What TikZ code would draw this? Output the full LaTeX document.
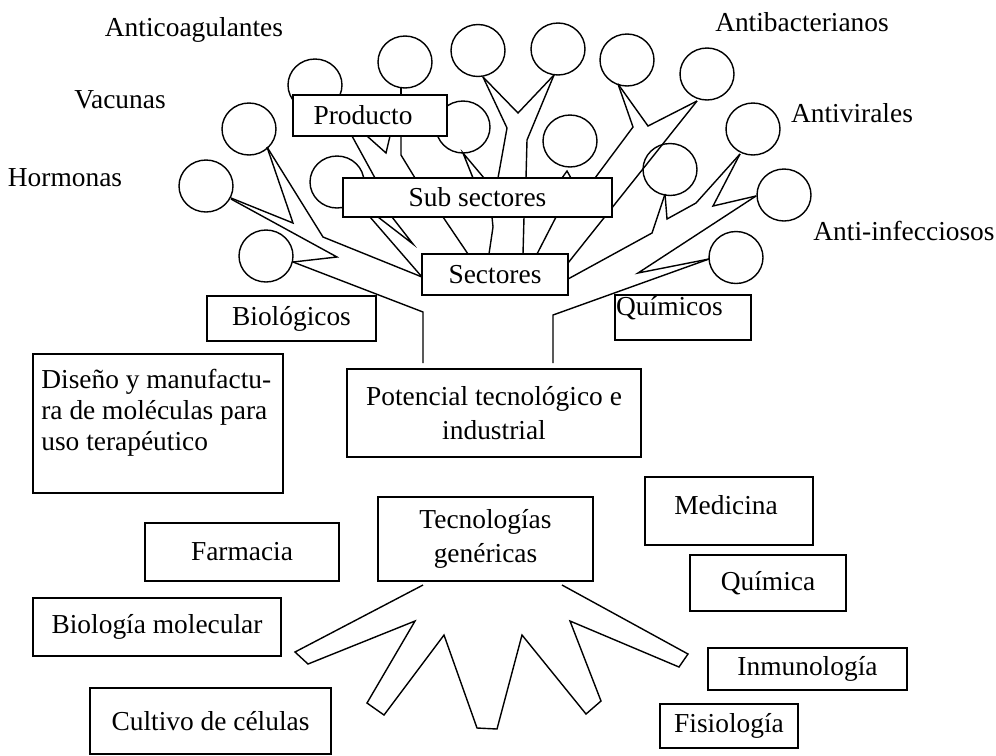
\documentclass[tikz,border=0pt]{standalone}
\usepackage{fontspec}
\setmainfont{Liberation Serif}
\newcommand\treefont{\fontsize{15.6}{17.5}\selectfont}
\begin{document}
\begin{tikzpicture}[x=0.02cm,y=-0.02cm,
  tree/.style={line width=0.8pt},
  leaf/.style={line width=0.8pt},
  box/.style={draw, line width=0.8pt, fill=white, inner sep=0pt, font=\treefont, align=center},
  lbl/.style={inner sep=0pt, font=\treefont}]
\useasboundingbox (0,0) rectangle (996,755);

% ---- trunk and branches ----
\draw[tree] (423,363) -- (423,312) -- (293,262);
\draw[tree] (293,262) -- (337,257) -- (231,199);
\draw[tree] (231,198) -- (293,223) -- (267,147);
\draw[tree] (267,147) -- (323,237) -- (422,277);
\draw[tree] (370,217) -- (422,277);
\draw[tree] (378,217) -- (413,244) -- (392,217);
\draw[tree] (352,136) -- (375,178);
\draw[tree] (367,136) -- (386,153) -- (390,136);
\draw[tree] (401,136) -- (401,155) -- (415,178);
\draw[tree] (401,88) -- (401,96);
\draw[tree] (443,217) -- (468,254);
\draw[tree] (492,217) -- (493,227) -- (489,254);
\draw[tree] (524,217) -- (523,254);
\draw[tree] (556,217) -- (537,254);
\draw[tree] (697,101) -- (568,263);
\draw[tree] (618,84) -- (633,127) -- (595,178);
\draw[tree] (618,84) -- (648,126) -- (697,101);
\draw[tree] (483,77) -- (518,113) -- (554,75);
\draw[tree] (483,77) -- (507,128) -- (498,178);
\draw[tree] (554,75) -- (527,140) -- (526,178);
\draw[tree] (473,178) -- (463,153) -- (484,178);
\draw[tree] (562,178) -- (567,171) -- (571,178);
\draw[tree] (665,194) -- (652,233) -- (568,279);
\draw[tree] (665,194) -- (667,219) -- (696,203) -- (740,154);
\draw[tree] (740,154) -- (713,206) -- (756,196);
\draw[tree] (756,196) -- (638,273) -- (709,259);
\draw[tree] (709,259) -- (553,315) -- (553,363);

% ---- leaves ----
\foreach \cx/\cy in {249/129, 206/186, 266/256, 315/85, 405/62, 478/50.5,
  558/49, 463/127, 337/182, 570/141, 627/60, 707/74, 670/169.5, 753/129,
  784/195, 736/257.5}
  \draw[leaf] (\cx,\cy) ellipse [x radius=0.54cm, y radius=0.52cm];

% ---- roots ----
\draw[tree] (423,585) -- (295,652) -- (308,664) -- (415,621) -- (367,703)
  -- (384,715) -- (444,635) -- (477,728) -- (497,729) -- (522,635)
  -- (586,714) -- (601,701) -- (570,621) -- (679,667) -- (688,654) -- (562,585);

% ---- boxes ----
\node[box, minimum width=3.08cm, minimum height=0.82cm] (producto) at (370,115.5) {Producto\hspace{0.28cm}};
\node[box, minimum width=5.38cm, minimum height=0.78cm] (subsect) at (477.5,197.5) {Sub sectores};
\node[box, minimum width=2.92cm, minimum height=0.82cm] (sectores) at (495,274.5) {Sectores};
\node[box, minimum width=3.38cm, minimum height=0.90cm] (biol) at (291.5,318.5) {Biológicos};
\node[box, minimum width=2.72cm, minimum height=0.90cm,
  label={[lbl, anchor=north west, xshift=0.03cm, yshift=-0.04cm]north west:Químicos}] (quim) at (683,317.5) {};
\node[box, minimum width=5.0cm, minimum height=2.78cm] (diseno) at (158,423.5) {};
\node[lbl, anchor=north west, align=left] (disenotxt) at (41,369)
  {Diseño y manufactu-\\ra de moléculas para\\uso terapéutico};
\node[box, minimum width=5.88cm, minimum height=1.76cm] (potencial) at (494,413)
  {Potencial tecnológico e\\[1.5pt]industrial};
\node[box, minimum width=4.3cm, minimum height=1.68cm] (tecgen) at (485.5,539)
  {Tecnologías\\[1.5pt]genéricas};
\node[box, minimum width=3.36cm, minimum height=1.36cm,
  label={[lbl, xshift=-0.06cm, yshift=0.12cm]center:Medicina}] (medicina) at (729,511) {};
\node[box, minimum width=3.12cm, minimum height=1.12cm] (quimica) at (768,583) {Química};
\node[box, minimum width=3.88cm, minimum height=1.16cm] (farmacia) at (242,552) {Farmacia};
\node[box, minimum width=4.96cm, minimum height=1.16cm] (biomol) at (157,627) {Biología molecular};
\node[box, minimum width=4.82cm, minimum height=1.32cm] (cultivo) at (210.5,721) {Cultivo de células};
\node[box, minimum width=3.98cm, minimum height=0.84cm] (inmuno) at (807.5,669) {Inmunología};
\node[box, minimum width=2.76cm, minimum height=0.88cm] (fisio) at (729,726) {Fisiología};

% ---- free labels ----
\node[lbl] (anticoag) at (194,30) {Anticoagulantes};
\node[lbl] (vacunas) at (120,100) {Vacunas};
\node[lbl] (hormonas) at (65,178) {Hormonas};
\node[lbl] (antibac) at (802,22) {Antibacterianos};
\node[lbl] (antivir) at (852,113) {Antivirales};
\node[lbl] (antiinf) at (904,231) {Anti-infecciosos};
\end{tikzpicture}
\end{document}
